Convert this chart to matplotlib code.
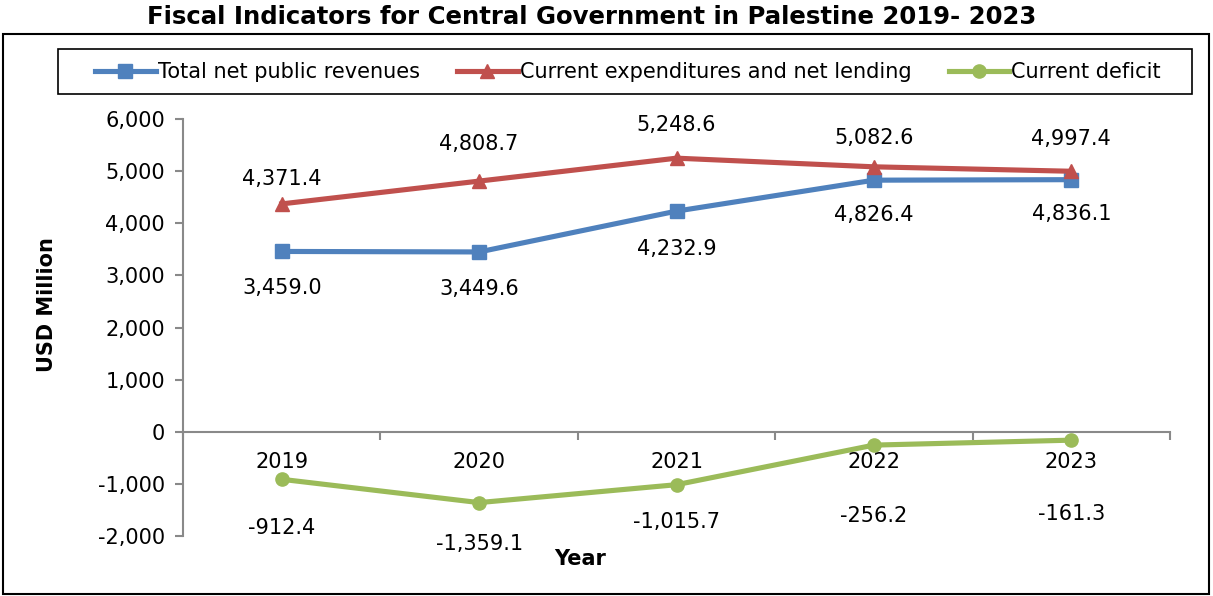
import matplotlib
matplotlib.use("Agg")
import matplotlib.pyplot as plt
from matplotlib.patches import Rectangle

years = ["2019", "2020", "2021", "2022", "2023"]
revenues = [3459.0, 3449.6, 4232.9, 4826.4, 4836.1]
expenditures = [4371.4, 4808.7, 5248.6, 5082.6, 4997.4]
deficit = [-912.4, -1359.1, -1015.7, -256.2, -161.3]
series_names = ["Total net public revenues", "Current expenditures and net lending", "Current deficit"]
yticks = [-2000, -1000, 0, 1000, 2000, 3000, 4000, 5000, 6000]

# label offsets (points) — styling only
rev_off = [-26, -27, -27, -25, -25]
exp_off = [18, 27, 24, 21, 23]
def_off = [-35, -30, -27, -51, -53]

plt.rcParams['font.family'] = ['DejaVu Sans']
FS = 15
W, H = 1213, 596
fig = plt.figure(figsize=(W / 100, H / 100), dpi=100)

def fx(px):
    return px / W

def fy(py):
    return 1 - py / H

ax = fig.add_axes([fx(183), fy(536), fx(1170) - fx(183), fy(119) - fy(536)])
x = list(range(len(years)))

blue, red, green = "#4f81bd", "#c0504d", "#9bbb59"
gray = "#898989"

ax.plot(x, revenues, color=blue, lw=3.7, marker="s", ms=9.5, label=series_names[0])
ax.plot(x, expenditures, color=red, lw=3.7, marker="^", ms=10, label=series_names[1])
ax.plot(x, deficit, color=green, lw=3.7, marker="o", ms=9.5, label=series_names[2])

ax.set_xlim(-0.5, len(years) - 0.5)
ax.set_ylim(-2000, 6000)
ax.set_yticks(yticks)
ax.set_yticklabels([f"{v:,}" for v in yticks], fontsize=FS)

for s in ["top", "right"]:
    ax.spines[s].set_visible(False)
ax.spines["left"].set_color(gray)
ax.spines["bottom"].set_color(gray)
ax.spines["left"].set_linewidth(1.5)
ax.spines["bottom"].set_linewidth(1.5)
ax.spines["bottom"].set_position(("data", 0))
ax.tick_params(axis="y", colors=gray, length=6, width=1.5, labelcolor="black", pad=7)

ax.set_xticks([i - 0.5 for i in range(len(years) + 1)])
ax.set_xticklabels([])
ax.tick_params(axis="x", colors=gray, length=6, width=1.5, direction="out")
for i, yr in enumerate(years):
    ax.annotate(yr, (i, 0), xytext=(0, -22), textcoords="offset points",
                ha="center", va="center", fontsize=FS)

def fmt(v):
    return f"{v:,.1f}"

for i in x:
    ax.annotate(fmt(revenues[i]), (i, revenues[i]), xytext=(0, rev_off[i]), textcoords="offset points",
                ha="center", va="center", fontsize=FS)
    ax.annotate(fmt(expenditures[i]), (i, expenditures[i]), xytext=(0, exp_off[i]), textcoords="offset points",
                ha="center", va="center", fontsize=FS)
    ax.annotate(fmt(deficit[i]), (i, deficit[i]), xytext=(0, def_off[i]), textcoords="offset points",
                ha="center", va="center", fontsize=FS)

fig.text(fx(580), fy(559), "Year", ha="center", va="center", fontsize=15, fontweight="bold")
fig.text(fx(47), fy(305), "USD Million", ha="center", va="center", fontsize=15,
         fontweight="bold", rotation=90)
fig.text(fx(592), fy(17.5), "Fiscal Indicators for Central Government in Palestine 2019- 2023",
         ha="center", va="center", fontsize=17.6, fontweight="bold")

# outer border
fig.patches.append(Rectangle((fx(3), fy(594)), fx(1209) - fx(3), fy(34) - fy(594),
                             transform=fig.transFigure, fill=False, ec="black", lw=1.5))
# legend frame
fig.patches.append(Rectangle((fx(58), fy(94)), fx(1192) - fx(58), fy(49) - fy(94),
                             transform=fig.transFigure, fill=False, ec="black", lw=1.2))

leg = fig.legend(loc="center", bbox_to_anchor=(fx(628), fy(72)),
                 ncol=3, fontsize=FS, frameon=False,
                 handlelength=2.9, handletextpad=0.1, columnspacing=1.8)

fig.savefig("out.png", dpi=100)
